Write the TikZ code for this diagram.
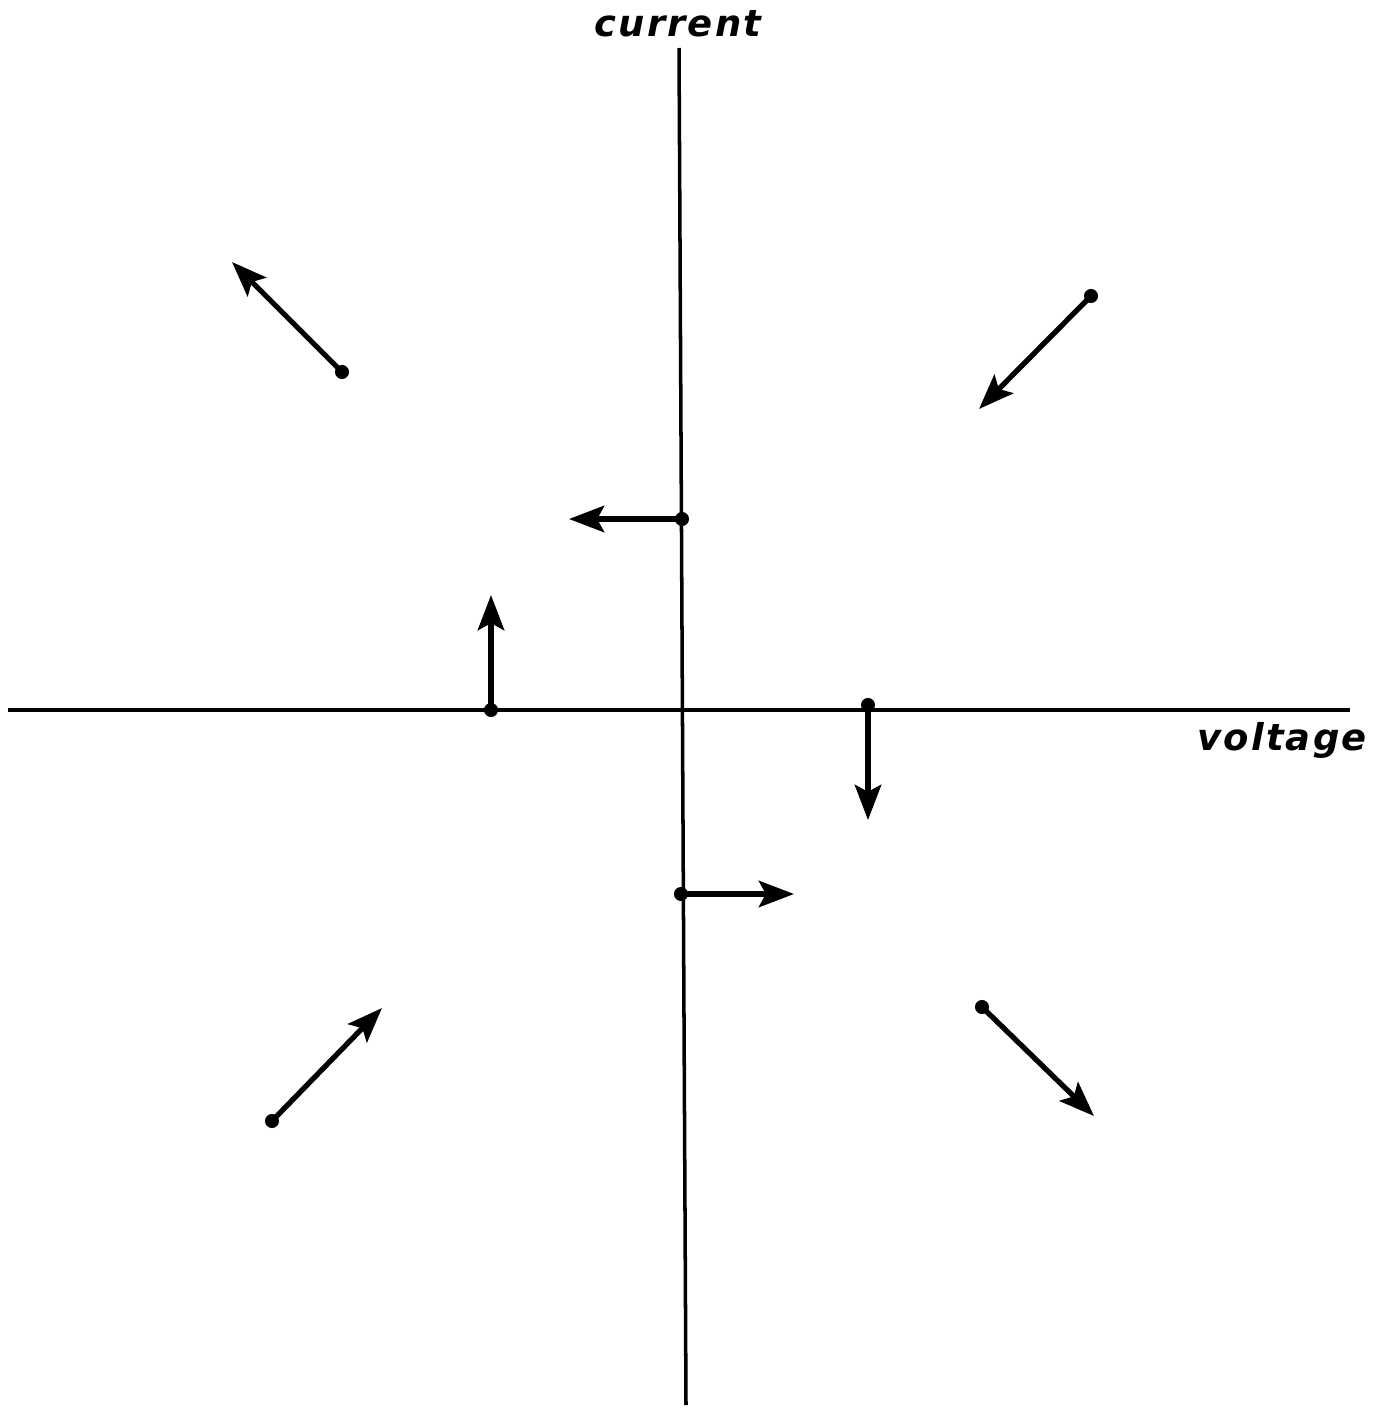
\documentclass[tikz,border=0pt]{standalone}
\usepackage{fontspec}
\newfontfamily\hand{DejaVu Sans}[LetterSpace=6]
\usetikzlibrary{arrows.meta}
\tikzset{
  axis/.style={line width=1pt, black},
  vec/.style={line width=1.5pt, black, -{Stealth[length=10pt, width=7.5pt, inset=2pt]}},
  dot/.style={circle, fill=black, inner sep=0pt, minimum size=4pt},
  lbl/.style={font=\hand\bfseries\itshape\fontsize{10.5}{13}\selectfont}
}
\begin{document}
\begin{tikzpicture}[x=0.01cm, y=-0.01cm]
\useasboundingbox (0,0) rectangle (1379,1409);
% axes
\coordinate (vt) at (679,48);
\coordinate (vb) at (686,1405);
\coordinate (hl) at (8,710);
\coordinate (hr) at (1350,710);
\draw[axis] (vt) -- (vb);
\draw[axis] (hl) -- (hr);
\node[lbl] (cur) at (678,24) {current};
\node[lbl] (vol) at (1282,740) {voltage};
% vectors: start dots and arrow ends
\node[dot] (s1) at (342,372) {}; \coordinate (e1) at (232,262);
\node[dot] (s2) at (1091,296) {}; \coordinate (e2) at (979,409);
\node[dot] (s3) at (682,519) {}; \coordinate (e3) at (569,519);
\node[dot] (s4) at (491,710) {}; \coordinate (e4) at (491,595);
\node[dot] (s5) at (868,705) {}; \coordinate (e5) at (868,820);
\node[dot] (s6) at (681,894) {}; \coordinate (e6) at (794,894);
\node[dot] (s7) at (272,1121) {}; \coordinate (e7) at (382,1008);
\node[dot] (s8) at (982,1007) {}; \coordinate (e8) at (1094,1116);
\foreach \i in {1,...,8} \draw[vec] (s\i.center) -- (e\i);
\end{tikzpicture}
\end{document}
